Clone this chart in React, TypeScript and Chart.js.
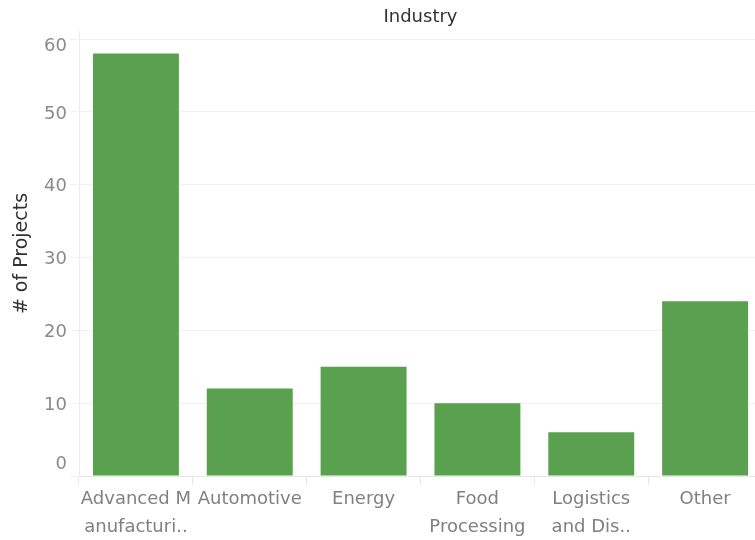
import React, { useEffect, useRef } from "react";
import { Chart, registerables } from "chart.js";

Chart.register(...registerables);

const categories: (string | string[])[] = [
  ["Advanced M", "anufacturi.."],
  "Automotive",
  "Energy",
  ["Food", "Processing"],
  ["Logistics", "and Dis.."],
  "Other",
];
const projects: number[] = [58, 12, 15, 10, 6, 24];
const yTicks: number[] = [0, 10, 20, 30, 40, 50, 60];
const chartTitle = "Industry";
const yTitle = "# of Projects";

const FONT = "'DejaVu Sans', sans-serif";

const yLabelPlugin = {
  id: "yLabelPlugin",
  afterDraw(chart: any) {
    const scale = chart.scales.y;
    const area = chart.chartArea;
    const ctx = chart.ctx;
    ctx.save();
    ctx.font = `18px ${FONT}`;
    ctx.fillStyle = "#8a8a8a";
    ctx.textAlign = "right";
    ctx.textBaseline = "middle";
    yTicks.forEach((v) => {
      let y = scale.getPixelForValue(v) + 2;
      y = Math.max(area.top + 15, Math.min(area.bottom - 12, y));
      ctx.fillText(String(v), scale.right - 12, y);
    });
    ctx.restore();
  },
};

export default function App() {
  const ref = useRef<HTMLCanvasElement | null>(null);

  useEffect(() => {
    if (!ref.current) return;
    const chart = new Chart(ref.current, {
      type: "bar",
      data: {
        labels: categories,
        datasets: [
          {
            data: projects,
            backgroundColor: "#59a14f",
            borderWidth: 0,
            barPercentage: 0.755,
            categoryPercentage: 1,
            xAxisID: "x",
          },
        ],
      },
      options: {
        responsive: false,
        animation: false,
        layout: { padding: { left: 0, right: 1, top: 0, bottom: 0 } },
        plugins: {
          legend: { display: false },
          tooltip: { enabled: false },
          title: { display: false },
        },
        scales: {
          xTop: {
            type: "category",
            position: "top",
            grid: { display: false },
            border: { display: false },
            ticks: { display: false },
            title: {
              display: true,
              text: chartTitle,
              color: "#333333",
              font: { family: FONT, size: 18, weight: "normal" },
              padding: { top: 7, bottom: 0 },
            },
            afterFit(scale: any) {
              scale.height = 31;
            },
          },
          x: {
            type: "category",
            position: "bottom",
            offset: true,
            grid: {
              display: true,
              offset: true,
              drawOnChartArea: false,
              drawTicks: true,
              tickLength: 9,
              color: "#e8e8e8",
            },
            border: { display: true, color: "#e6e6e6" },
            ticks: {
              color: "#808080",
              font: { family: FONT, size: 18, lineHeight: 1.55 },
              padding: 0,
              maxRotation: 0,
              autoSkip: false,
            },
            afterFit(scale: any) {
              scale.height = 64;
            },
          },
          y: {
            type: "linear",
            min: 0,
            max: 61.1,
            grid: {
              color: "#f0f0f0",
              drawTicks: true,
              tickLength: 9,
            },
            border: { display: true, color: "#ececec" },
            ticks: {
              stepSize: 10,
              color: "rgba(0,0,0,0)",
              font: { family: FONT, size: 18 },
            },
            afterBuildTicks(scale: any) {
              scale.ticks = yTicks.map((v) => ({ value: v }));
            },
            title: {
              display: true,
              text: yTitle,
              color: "#333333",
              font: { family: FONT, size: 19, weight: "normal" },
              padding: { top: 11, bottom: 4 },
            },
            afterFit(scale: any) {
              scale.width = 79;
            },
          },
        },
      },
      plugins: [yLabelPlugin],
    });
    return () => chart.destroy();
  }, []);

  return (
    <div
      style={{
        position: "fixed",
        left: 0,
        top: 0,
        width: 755,
        height: 540,
        overflow: "hidden",
        background: "#ffffff",
      }}
    >
      <canvas ref={ref} width={763} height={540} style={{ width: 763, height: 540, display: "block" }} />
    </div>
  );
}
